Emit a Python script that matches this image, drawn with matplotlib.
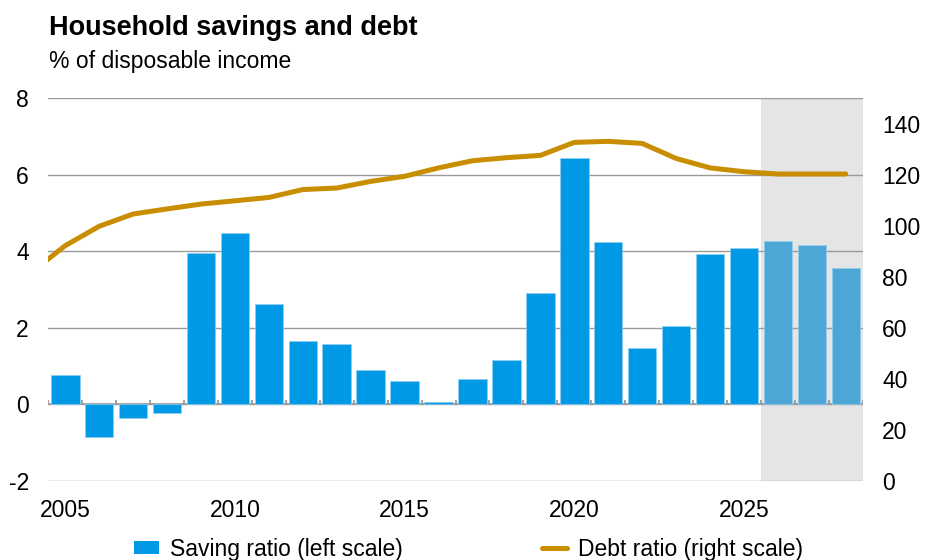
import matplotlib
matplotlib.use("Agg")
import matplotlib.pyplot as plt
import numpy as np
from matplotlib.patches import Patch
from matplotlib.lines import Line2D

plt.rcParams['font.family'] = ['Liberation Sans', 'DejaVu Sans']

years = list(range(2005, 2029))
saving_ratio = [0.76, -0.85, -0.36, -0.24, 3.95, 4.47, 2.62, 1.65, 1.57, 0.89, 0.61, 0.06,
                0.66, 1.16, 2.92, 6.44, 4.23, 1.47, 2.04, 3.93, 4.08, 4.26, 4.16, 3.56]
forecast_from = 2026
debt_years = list(range(2004, 2029))
debt_ratio = [81.7, 92.2, 99.8, 104.6, 106.6, 108.5, 109.8, 111.1, 114.2, 114.8, 117.4, 119.4,
              122.7, 125.5, 126.7, 127.6, 132.7, 133.1, 132.3, 126.4, 122.7, 121.2, 120.3,
              120.3, 120.3]
left_ticks = [-2, 0, 2, 4, 6, 8]
right_ticks = [0, 20, 40, 60, 80, 100, 120, 140]
xtick_years = [2005, 2010, 2015, 2020, 2025]

BLUE = '#0099E6'
BLUE_F = '#4DA6D6'
GOLD = '#C88E00'
GRID = '#9A9A9A'
FS = 16.5

fig = plt.figure(figsize=(9.25, 5.6), dpi=100)
ax = fig.add_axes([0.0522, 0.1416, 0.8805, 0.6829])

ax.axvspan(forecast_from - 0.5, years[-1] + 0.5, color='#E5E5E5', zorder=0, lw=0)
colors = [BLUE if y < forecast_from else BLUE_F for y in years]
ax.axhline(0, color=GRID, linewidth=1.2, zorder=1.5)
ax.bar(years, saving_ratio, width=0.84, color=colors, edgecolor='#8FD0F2', linewidth=0.5, zorder=2)

# category boundary ticks on the zero line (pointing up)
bounds = np.arange(years[0] - 0.5, years[-1] + 1.0, 1.0)
ax.vlines(bounds, 0, 0.11, color=GRID, linewidth=1.3, zorder=2.6)

ax.set_xlim(years[0] - 0.5, years[-1] + 0.5)
ax.set_ylim(-2, 8)
ax.set_yticks(left_ticks)
ax.set_yticklabels([str(t) for t in left_ticks])
ax.set_xticks(xtick_years)
ax.set_xticklabels([str(y) for y in xtick_years])
ax.tick_params(axis='both', length=0, labelsize=FS, colors='#000000')
ax.tick_params(axis='y', pad=14)
ax.tick_params(axis='x', pad=13)
ax.yaxis.grid(True, color=GRID, linewidth=1.0, zorder=1)
ax.set_axisbelow(True)
for s in ax.spines.values():
    s.set_visible(False)

ax2 = ax.twinx()
ax2.set_ylim(0, 150)
ax2.set_yticks(right_ticks)
ax2.set_yticklabels([str(t) for t in right_ticks])
ax2.tick_params(axis='y', length=0, labelsize=FS, pad=14)
for s in ax2.spines.values():
    s.set_visible(False)
ax2.plot(debt_years, debt_ratio, color=GOLD, linewidth=3.6, solid_capstyle='round',
         solid_joinstyle='round', zorder=3)
ax2.set_xlim(years[0] - 0.5, years[-1] + 0.5)

fig.text(0.053, 0.9375, 'Household savings and debt', fontsize=19.5, fontweight='bold', va='baseline')
fig.text(0.053, 0.8786, '% of disposable income', fontsize=FS, va='baseline')

handles = [Patch(facecolor=BLUE, edgecolor='none'),
           Line2D([0], [0], color=GOLD, linewidth=3.6, solid_capstyle='round')]
fig.legend(handles, ['Saving ratio (left scale)', 'Debt ratio (right scale)'],
           loc='center', bbox_to_anchor=(0.5065, 0.0195), ncol=2, frameon=False, fontsize=FS,
           handlelength=1.1, handleheight=0.55, handletextpad=0.45, columnspacing=6.1)

fig.savefig('out.png', dpi=100)
